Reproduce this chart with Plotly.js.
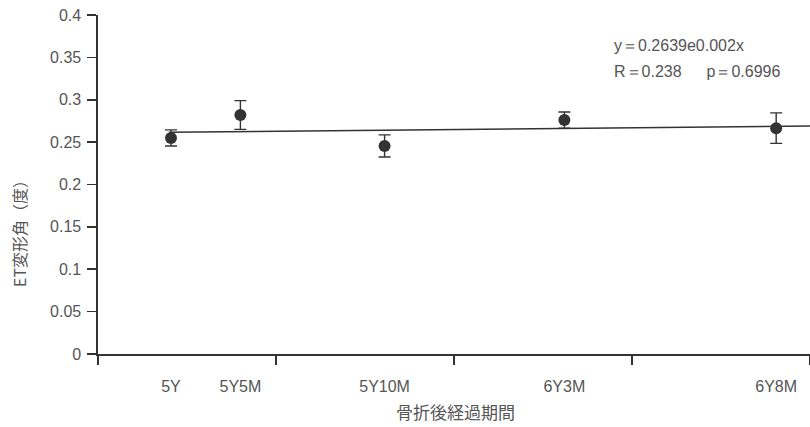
<!DOCTYPE html>
<html><head><meta charset="utf-8">
<script src="https://cdn.plot.ly/plotly-3.0.1.min.js"></script>
<style>body{margin:0;background:#fff}#c{width:810px;height:427px}</style>
</head><body><div id="c"></div>
<script>
const categories = ['5Y','5Y5M','5Y10M','6Y3M','6Y8M'];
const xPos = [0.41, 0.80, 1.61, 2.62, 3.81];
const means = [0.255, 0.282, 0.2455, 0.276, 0.2665];
const errs = [0.0095, 0.017, 0.013, 0.0095, 0.018];
const regX = [0.40, 4.0];
const regY = [0.2616, 0.2690];
const majorTicks = [0, 1, 2, 3, 4];
const yTicks = [0, 0.05, 0.1, 0.15, 0.2, 0.25, 0.3, 0.35, 0.4];
const yTickText = ['0','0.05','0.1','0.15','0.2','0.25','0.3','0.35','0.4'];

const txt = '#555';
const ink = '#333';
const f = 'Liberation Sans, Arial, sans-serif';
const jf = 'Noto Sans CJK JP, sans-serif';

// plot area: x 98..810, y 15..354 (pixels)
const px = v => (v - 98) / 712;
const py = v => (354 - v) / 339;

const data = [
  {x: regX, y: regY, mode: 'lines', line: {color: ink, width: 1.6}, hoverinfo: 'skip'},
  {x: xPos, y: means, mode: 'markers', marker: {color: ink, size: 12},
   error_y: {type: 'data', array: errs, visible: true, color: ink, thickness: 1.4, width: 6}}
];

const layout = {
  width: 810, height: 427,
  margin: {l: 98, r: 0, t: 15, b: 73},
  paper_bgcolor: '#fff', plot_bgcolor: '#fff',
  showlegend: false,
  xaxis: {
    range: [0, 4], showgrid: false, zeroline: false,
    showline: true, linecolor: ink, linewidth: 1.6,
    tickmode: 'array', tickvals: xPos, ticktext: categories,
    ticks: 'outside', ticklen: 17, tickcolor: 'rgba(0,0,0,0)',
    tickfont: {family: f, size: 16, color: txt},
    minor: {tickmode: 'array', tickvals: majorTicks, ticks: 'outside', ticklen: 9, tickwidth: 1.6, tickcolor: ink}
  },
  yaxis: {
    range: [0, 0.4], showgrid: false, zeroline: false,
    showline: true, linecolor: ink, linewidth: 1.6,
    tickmode: 'array', tickvals: yTicks, ticktext: yTickText,
    ticks: 'outside', ticklen: 9, tickwidth: 1.6, tickcolor: ink,
    ticklabelstandoff: 3,
    tickfont: {family: f, size: 16, color: txt}
  },
  annotations: [
    {xref: 'paper', yref: 'paper', x: px(612), y: py(46), xanchor: 'left', yanchor: 'middle', showarrow: false,
     text: 'y＝0.2639e0.002x', font: {family: f, size: 16, color: txt}},
    {xref: 'paper', yref: 'paper', x: px(612), y: py(71), xanchor: 'left', yanchor: 'middle', showarrow: false,
     text: 'R＝0.238　  p＝0.6996', font: {family: f, size: 16, color: txt}},
    {xref: 'paper', yref: 'paper', x: px(19), y: py(230), xanchor: 'center', yanchor: 'middle', showarrow: false,
     textangle: -90, text: 'ET変形角（度）', font: {family: jf, size: 16, color: txt}},
    {xref: 'paper', yref: 'paper', x: px(455), y: py(411), xanchor: 'center', yanchor: 'middle', showarrow: false,
     text: '骨折後経過期間', font: {family: jf, size: 17, color: txt}}
  ]
};
Plotly.newPlot('c', data, layout, {displayModeBar: false, staticPlot: true});
</script></body></html>
